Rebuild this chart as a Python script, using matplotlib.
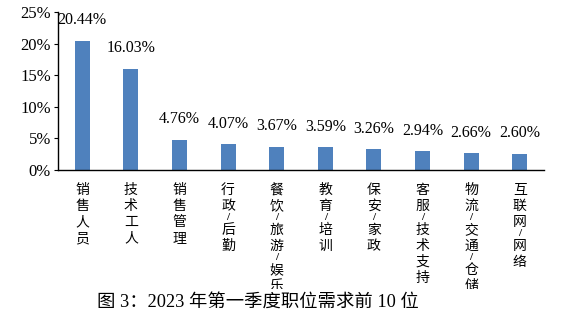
import matplotlib
matplotlib.use("Agg")
import matplotlib.pyplot as plt
from matplotlib.ticker import FuncFormatter
from matplotlib.transforms import Bbox, TransformedBbox

categories = ["销售人员", "技术工人", "销售管理", "行政/后勤", "餐饮/旅游/娱乐",
              "教育/培训", "保安/家政", "客服/技术支持", "物流/交通/仓储", "互联网/网络"]
values = [20.44, 16.03, 4.76, 4.07, 3.67, 3.59, 3.26, 2.94, 2.66, 2.60]
yticks = [0, 5, 10, 15, 20, 25]
caption = "图 3：2023 年第一季度职位需求前 10 位"

serif = ["Liberation Serif", "Noto Sans CJK SC"]
cjk = ["Noto Sans CJK SC", "DejaVu Sans"]

fig = plt.figure(figsize=(5.61, 3.29), dpi=100)
ax = fig.add_axes([58/561, 1-170/329, (544-58)/561, (170-12)/329])

x = list(range(len(categories)))
ax.bar(x, values, width=0.31, color="#4F81BD")
ax.set_xlim(-0.5, len(categories)-0.5)
ax.set_ylim(0, 25)
ax.set_yticks(yticks)
ax.yaxis.set_major_formatter(FuncFormatter(lambda v, p: f"{v:.0f}%"))
for lab in ax.get_yticklabels():
    lab.set_fontfamily(serif)
    lab.set_fontsize(12)
ax.tick_params(axis="y", direction="out", length=3, width=0.8, pad=2)
ax.tick_params(axis="x", length=0)
ax.set_xticks([])
for s in ["top", "right"]:
    ax.spines[s].set_visible(False)
for s in ["left", "bottom"]:
    ax.spines[s].set_linewidth(1.0)
    ax.spines[s].set_color("black")

for xi, v in zip(x, values):
    ax.annotate(f"{v:.2f}%", (xi, v), xytext=(0, 9), textcoords="offset points",
                ha="center", va="bottom", fontsize=11.5, family=serif)

clip = TransformedBbox(Bbox([[0, 40/329], [1, 1]]), fig.transFigure)
for xi, c in zip(x, categories):
    off = -20
    prev = None
    for ch in c:
        if prev is not None:
            if ch == "/" or prev == "/":
                off -= 12
            else:
                off -= 16
        if ch == "/":
            t = ax.annotate("/", (xi, 0), xytext=(0, off), textcoords="offset pixels",
                            ha="center", va="center", fontsize=8, family=serif,
                            fontweight="bold", annotation_clip=False)
        else:
            t = ax.annotate(ch, (xi, 0), xytext=(0, off), textcoords="offset pixels",
                            ha="center", va="center", fontsize=10, family=cjk,
                            annotation_clip=False)
        t.set_clip_box(clip)
        t.set_clip_on(True)
        prev = ch

fig.text(258/561, 1-302/329, caption, ha="center", va="center", fontsize=13.2,
         family=serif)

fig.savefig("out.png", dpi=100)
